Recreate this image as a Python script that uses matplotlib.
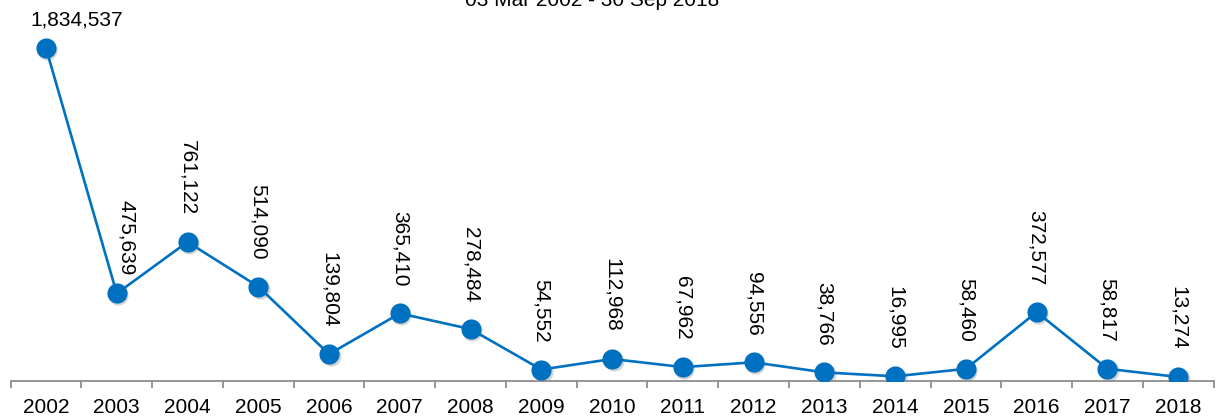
import matplotlib.pyplot as plt
import matplotlib.transforms as mtransforms

plt.rcParams['font.family'] = ['Liberation Sans', 'DejaVu Sans']

years = ['2002', '2003', '2004', '2005', '2006', '2007', '2008', '2009', '2010',
         '2011', '2012', '2013', '2014', '2015', '2016', '2017', '2018']
counts = [1834537, 475639, 761122, 514090, 139804, 365410, 278484, 54552, 112968,
          67962, 94556, 38766, 16995, 58460, 372577, 58817, 13274]
title = '03 Mar 2002 - 30 Sep 2018'

blue = '#0070C0'
fig = plt.figure(figsize=(12.18, 4.17), dpi=100)
ax = fig.add_axes([10.6 / 1218, 36 / 417, 1203 / 1218, 381 / 417])

x = list(range(len(years)))

# soft drop shadow under the markers
shadow = mtransforms.offset_copy(ax.transData, fig=fig, x=1.5, y=-2, units='dots')
ax.plot(x, counts, 'o', ms=14.5, color='#555555', alpha=0.25, mec='none',
        transform=shadow, zorder=2)
ax.plot(x, counts, '-', color=blue, lw=1.9, zorder=3)
ax.plot(x, counts, 'o', ms=14.5, color=blue, mec='none', zorder=4)

ax.set_xlim(-0.5, len(years) - 0.5)
ax.set_ylim(-8900, 2100800)

for i, v in enumerate(counts):
    lab = f'{v:,}'
    if i == 0:
        ax.annotate(lab, (i, v), xytext=(31, 28), textcoords='offset pixels',
                    ha='center', va='center', fontsize=15, clip_on=False)
    elif i == 1:
        ax.annotate(lab, (i, v), xytext=(10, 18), textcoords='offset pixels',
                    ha='center', va='bottom', rotation=270, fontsize=15)
    else:
        ax.annotate(lab, (i, v), xytext=(0, 27), textcoords='offset pixels',
                    ha='center', va='bottom', rotation=270, fontsize=15)

for s in ['top', 'right', 'left']:
    ax.spines[s].set_visible(False)
ax.spines['bottom'].set_color('#8c8c8c')
ax.spines['bottom'].set_linewidth(1.3)
ax.set_yticks([])

ax.set_xticks(x)
ax.set_xticklabels(years, fontsize=15)
ax.tick_params(axis='x', which='major', length=0, pad=12)
ax.set_xticks([i - 0.5 for i in range(len(years) + 1)], minor=True)
ax.tick_params(axis='x', which='minor', length=5, width=1.3, color='#8c8c8c')

fig.text(592 / 1218, 1 - 6 / 417, title, ha='center', va='baseline', fontsize=15)

fig.savefig('out.png', dpi=100)
